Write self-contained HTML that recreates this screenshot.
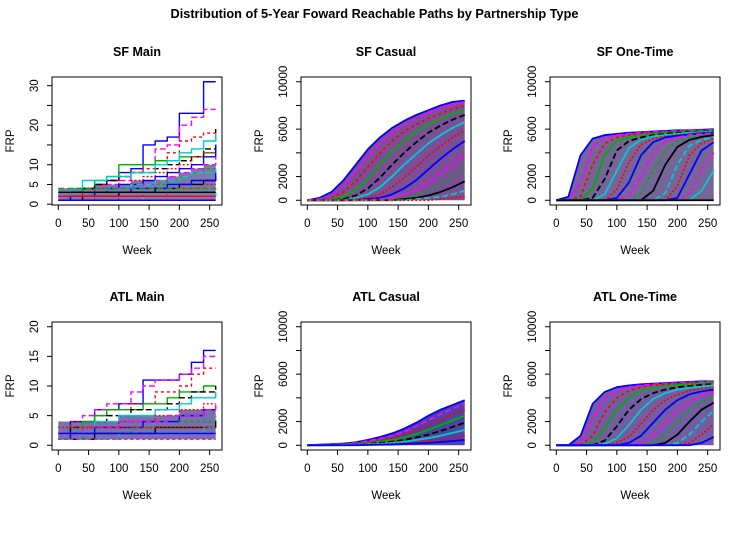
<!DOCTYPE html>
<html><head><meta charset="utf-8"><style>
html,body{margin:0;padding:0;background:#fff;}
svg{display:block;font-family:"Liberation Sans",Arial,sans-serif;}
</style></head><body>
<svg id="chart" width="747" height="540" viewBox="0 0 747 540" xmlns="http://www.w3.org/2000/svg">
<text x="374.5" y="18" text-anchor="middle" font-size="12.5" font-weight="bold" textLength="408" lengthAdjust="spacingAndGlyphs">Distribution of 5-Year Foward Reachable Paths by Partnership Type</text>
</svg>
<script>
// shared week grid
const weeks = [0,20,40,60,80,100,120,140,160,180,200,220,240,260];
const xTicks = [0,50,100,150,200,250];
const mainTicksSF = [0,5,10,15,20,25,30];
const mainLabelsSF = [0,5,10,20,30];
const mainTicksATL = [0,5,10,15,20];
const bigTicks = [0,2000,4000,6000,8000,10000];
const bigLabels = [0,2000,6000,10000];

const sfMain = [
 [2,3,4,5,6,8,9,15,16,17,23,23,31,31],
 [1,2,3,4,5,6,8,10,14,15,20,22,24,24],
 [1,2,4,5,6,7,8,9,11,13,16,17,18,19],
 [2,3,4,6,7,10,10,10,11,11,12,12,13,14],
 [1,3,4,5,6,7,8,8,9,10,11,12,14,19],
 [1,4,6,6,7,7,8,8,10,11,13,14,16,18],
 [1,2,3,4,4,5,6,7,8,9,10,12,13,14],
 [1,2,2,3,4,5,5,6,7,8,9,10,12,15],
 [1,1,2,3,3,4,4,5,6,7,8,9,10,12],
 [1,2,2,2,3,3,4,4,5,6,7,8,9,10],
 [1,1,2,2,2,3,3,3,4,4,5,5,6,7],
 [2,2,3,3,4,4,5,5,6,6,7,8,8,9],
 [1,1,1,2,2,2,2,3,3,3,4,4,5,5],
 [1,2,2,3,3,3,4,4,4,5,5,6,6,8],
 [1,1,1,1,1,2,2,2,2,3,3,3,3,4],
 [1,1,1,1,1,1,1,2,2,2,2,2,2,3],
 [3,3,3,3,3,3,3,3,3,3,3,3,3,3],
 [4,4,4,4,4,4,4,4,4,4,4,4,4,4],
 [2,2,2,2,2,2,2,2,2,2,2,2,2,2],
 [1,1,1,1,1,1,1,1,1,1,1,1,1,1]
];
const sfMainCloud = [4,4,4,5,5,5,6,6,6,7,8,9,10,11];

const sfCasual = [
 [0,200,700,1700,3000,4300,5300,6100,6700,7200,7600,8000,8300,8400],
 [0,100,400,1200,2400,3700,4800,5700,6400,6900,7400,7800,8100,8300],
 [0,0,200,700,1600,2800,4000,5000,5800,6400,6900,7300,7700,8000],
 [0,0,100,300,900,1800,3000,4100,5000,5800,6400,6900,7300,7600],
 [0,0,0,100,400,1000,1900,3000,4000,4900,5700,6300,6800,7200],
 [0,0,0,0,200,500,1100,2000,3000,3900,4800,5500,6100,6600],
 [0,0,0,0,100,200,500,1100,1900,2800,3800,4600,5300,5900],
 [0,0,0,0,0,100,200,500,1000,1700,2600,3500,4300,5000],
 [0,0,0,0,0,0,100,200,500,900,1500,2300,3100,3900],
 [0,0,0,0,0,0,0,100,200,400,800,1300,2000,2700],
 [0,0,0,0,0,0,0,0,100,200,400,700,1100,1600],
 [0,0,0,0,0,0,0,0,0,100,200,300,500,800],
 [0,0,0,0,0,0,0,0,0,0,0,100,200,300]
];

const sfOne = [
 [0,300,3800,5200,5500,5600,5700,5750,5800,5850,5900,5900,5950,6000],
 [0,0,1500,4500,5300,5500,5600,5700,5750,5800,5850,5900,5900,5950],
 [0,0,300,3000,4800,5300,5500,5600,5700,5750,5800,5850,5900,5900],
 [0,0,0,1000,3800,5000,5300,5500,5600,5700,5750,5800,5850,5900],
 [0,0,0,200,1800,4200,5000,5300,5500,5600,5700,5750,5800,5850],
 [0,0,0,0,500,2500,4400,5100,5400,5500,5600,5700,5750,5800],
 [0,0,0,0,0,900,3200,4700,5200,5400,5500,5600,5700,5750],
 [0,0,0,0,0,200,1500,3800,4900,5300,5450,5550,5650,5700],
 [0,0,0,0,0,0,400,2000,4000,5000,5300,5500,5600,5650],
 [0,0,0,0,0,0,0,600,2500,4300,5000,5300,5450,5550],
 [0,0,0,0,0,0,0,0,800,3000,4500,5100,5350,5500],
 [0,0,0,0,0,0,0,0,0,600,3000,4600,5100,5300],
 [0,0,0,0,0,0,0,0,0,0,1200,3800,4800,5200],
 [0,0,0,0,0,0,0,0,0,0,200,2200,4200,4900],
 [0,0,0,0,0,0,0,0,0,0,0,600,2600,4000],
 [0,0,0,0,0,0,0,0,0,0,0,0,800,2500],
 [0,0,0,0,0,0,0,0,0,0,0,0,0,0]
];

const atlMain = [
 [1,4,4,6,6,7,7,11,11,11,12,14,16,16],
 [1,3,5,6,7,7,9,10,11,11,12,13,15,15],
 [1,4,4,5,6,6,7,7,9,9,10,12,13,13],
 [1,3,4,5,6,6,6,7,7,8,9,9,10,10],
 [1,3,3,4,5,5,6,6,6,7,8,9,9,10],
 [1,2,3,4,4,5,5,5,6,6,7,8,8,9],
 [1,2,3,3,3,4,4,4,5,5,6,6,7,7],
 [1,2,2,3,3,3,3,4,4,4,5,5,6,6],
 [2,2,3,3,3,4,4,4,4,5,5,5,6,7],
 [1,1,2,2,2,2,3,3,3,3,4,4,4,5],
 [1,1,1,2,2,2,2,2,3,3,3,3,3,4],
 [1,1,1,1,1,2,2,2,2,2,2,2,3,3],
 [3,3,3,3,3,3,3,3,3,3,3,3,3,3],
 [2,2,2,2,2,2,2,2,2,2,2,2,2,2],
 [1,1,1,1,1,1,1,1,1,1,1,1,1,1]
];
const atlMainCloud = [4,4,4,4,4,5,5,5,5,5,6,6,6,7];

const atlCasual = [
 [0,50,100,150,250,450,700,1000,1400,1900,2500,3000,3400,3800],
 [0,30,80,120,200,350,550,800,1150,1600,2100,2600,3100,3500],
 [0,20,60,100,150,250,400,600,900,1250,1700,2150,2600,3000],
 [0,0,40,70,100,180,300,450,650,950,1300,1700,2100,2500],
 [0,0,20,50,80,120,200,300,450,650,900,1200,1550,1900],
 [0,0,0,30,50,80,120,200,300,450,600,800,1050,1300],
 [0,0,0,0,30,50,80,120,180,260,350,480,620,800],
 [0,0,0,0,0,20,40,60,100,150,200,280,360,450]
];

const atlOne = [
 [0,0,800,3500,4500,4900,5050,5150,5200,5250,5300,5350,5400,5400],
 [0,0,200,2200,3900,4600,4900,5050,5150,5200,5250,5300,5350,5400],
 [0,0,0,800,2800,4000,4600,4900,5050,5150,5200,5250,5300,5350],
 [0,0,0,200,1400,3000,4000,4600,4850,5000,5100,5150,5250,5300],
 [0,0,0,0,400,1600,3000,3900,4400,4700,4900,5000,5100,5200],
 [0,0,0,0,100,600,1700,3000,3900,4400,4700,4850,4950,5050],
 [0,0,0,0,0,200,700,1800,3000,3800,4300,4600,4800,4900],
 [0,0,0,0,0,0,200,800,1900,3000,3800,4300,4550,4700],
 [0,0,0,0,0,0,0,200,800,1900,3000,3700,4200,4450],
 [0,0,0,0,0,0,0,0,200,900,2000,3000,3700,4100],
 [0,0,0,0,0,0,0,0,0,200,900,2000,3000,3600],
 [0,0,0,0,0,0,0,0,0,0,200,900,2000,2900],
 [0,0,0,0,0,0,0,0,0,0,0,200,900,1800],
 [0,0,0,0,0,0,0,0,0,0,0,0,200,700]
];

const palette = ['#0000ff','#ff00ff','#ff0000','#00b000','#000000','#00cccc','#ff0000','#0000ff','#ff00ff','#00b000','#000000','#00cccc','#ff0000','#0000ff','#ff00ff','#00cccc','#000000','#00b000','#ff0000','#0000ff'];
const dashes = ['none','6,3','3,3','none','6,3','none','2,2','none','6,3','3,3','none','6,3','2,2','none','3,3','none','none','6,3','none','none'];

const NS = 'http://www.w3.org/2000/svg';
const svg = document.getElementById('chart');
function mk(tag, attrs, parent){ const e=document.createElementNS(NS,tag); for(const k in attrs) e.setAttribute(k,attrs[k]); (parent||svg).appendChild(e); return e; }

function panel(cfg){
  const L=52+249*cfg.col, R=L+170, T=77+245*cfg.row, B=T+128;
  const g=mk('g',{});
  
  
  const x0=-10.4, x1=270.4;
  const pad=(cfg.ymax-cfg.ymin)*0.04, y0=cfg.ymin-pad, y1=cfg.ymax+pad;
  const sx=v=>L+(v-x0)/(x1-x0)*(R-L);
  const sy=v=>B-(v-y0)/(y1-y0)*(B-T);
  const clip='clip-'+cfg.name;
  const cp=mk('clipPath',{id:clip},g); mk('rect',{x:L,y:T,width:R-L,height:B-T},cp);
  const pg=mk('g',{'clip-path':'url(#'+clip+')'},g);
  if(cfg.cloud){
    let d='M'+sx(weeks[0])+','+sy(cfg.base);
    cfg.cloud.forEach((v,i)=>{ d+=' L'+sx(weeks[i])+','+sy(v); if(cfg.step && i<weeks.length-1) d+=' L'+sx(weeks[i+1])+','+sy(v); });
    d+=' L'+sx(weeks[weeks.length-1])+','+sy(cfg.base)+' Z';
    const f=mk('path',{d:d,fill:cfg.fill,opacity:cfg.fillOp},pg);
    
    
  }
  cfg.series.forEach((s,si)=>{
    let d='';
    s.forEach((v,i)=>{
      if(cfg.step){
        if(i===0) d+='M'+sx(weeks[0])+','+sy(v);
        else d+=' L'+sx(weeks[i])+','+sy(s[i-1])+' L'+sx(weeks[i])+','+sy(v);
      } else d+=(i?' L':'M')+sx(weeks[i])+','+sy(v);
    });
    const p=mk('path',{d:d,fill:'none',stroke:palette[si%palette.length],'stroke-width':cfg.lw,'stroke-dasharray':dashes[si%dashes.length],'stroke-linejoin':'round'},pg);
    
    
  });
  const box=mk('rect',{x:L,y:T,width:R-L,height:B-T,fill:'none',stroke:'#000','stroke-width':1},g);
  
  
  const xa=mk('g',{},g);
  
  
  mk('line',{x1:sx(xTicks[0]),x2:sx(xTicks[xTicks.length-1]),y1:B,y2:B,stroke:'#000'},xa);
  xTicks.forEach(t=>{
    mk('line',{x1:sx(t),x2:sx(t),y1:B,y2:B+5,stroke:'#000'},xa);
    const tx=mk('text',{x:sx(t),y:B+22,'text-anchor':'middle','font-size':11.5},xa); tx.textContent=t;
  });
  const ya=mk('g',{},g);
  
  
  mk('line',{x1:L,x2:L,y1:sy(cfg.yTicks[0]),y2:sy(cfg.yTicks[cfg.yTicks.length-1]),stroke:'#000'},ya);
  cfg.yTicks.forEach(t=>{ mk('line',{x1:L-5,x2:L,y1:sy(t),y2:sy(t),stroke:'#000'},ya); });
  cfg.yLabels.forEach(t=>{
    const tx=mk('text',{x:L-14,y:sy(t),'text-anchor':'middle','font-size':11.5,transform:'rotate(-90 '+(L-14)+' '+sy(t)+')'},ya); tx.textContent=t;
  });
  const tt=mk('text',{x:(L+R)/2,y:T-21,'text-anchor':'middle','font-size':12.5,'font-weight':'bold'},g); tt.textContent=cfg.title;
  
  
  const xl=mk('text',{x:(L+R)/2,y:B+49,'text-anchor':'middle','font-size':11.5},g); xl.textContent='Week';
  
  
  const yx=L-38, yy=(T+B)/2;
  const yl=mk('text',{x:yx,y:yy,'text-anchor':'middle','font-size':11.5,transform:'rotate(-90 '+yx+' '+yy+')'},g); yl.textContent='FRP';
  
  
}

panel({name:'sf-main',title:'SF Main',col:0,row:0,ymin:1,ymax:31,yTicks:mainTicksSF,yLabels:mainLabelsSF,series:sfMain,step:true,lw:1.4,cloud:sfMainCloud,base:1,fill:'#4a3f8a',fillOp:0.7});
panel({name:'sf-casual',title:'SF Casual',col:1,row:0,ymin:0,ymax:10000,yTicks:bigTicks,yLabels:bigLabels,series:sfCasual,step:false,lw:1.8,cloud:sfCasual[0],base:0,fill:'#6a3c8c',fillOp:0.9});
panel({name:'sf-one-time',title:'SF One-Time',col:2,row:0,ymin:0,ymax:10000,yTicks:bigTicks,yLabels:bigLabels,series:sfOne,step:false,lw:1.8,cloud:sfOne[0],base:0,fill:'#5e4a86',fillOp:0.85});
panel({name:'atl-main',title:'ATL Main',col:0,row:1,ymin:0,ymax:20,yTicks:mainTicksATL,yLabels:mainTicksATL,series:atlMain,step:true,lw:1.4,cloud:atlMainCloud,base:1,fill:'#3d358a',fillOp:0.7});
panel({name:'atl-casual',title:'ATL Casual',col:1,row:1,ymin:0,ymax:10000,yTicks:bigTicks,yLabels:bigLabels,series:atlCasual,step:false,lw:1.8,cloud:atlCasual[0],base:0,fill:'#3a2f9a',fillOp:0.9});
panel({name:'atl-one-time',title:'ATL One-Time',col:2,row:1,ymin:0,ymax:10000,yTicks:bigTicks,yLabels:bigLabels,series:atlOne,step:false,lw:1.8,cloud:atlOne[0],base:0,fill:'#5a3f90',fillOp:0.85});
</script>
</body></html>
